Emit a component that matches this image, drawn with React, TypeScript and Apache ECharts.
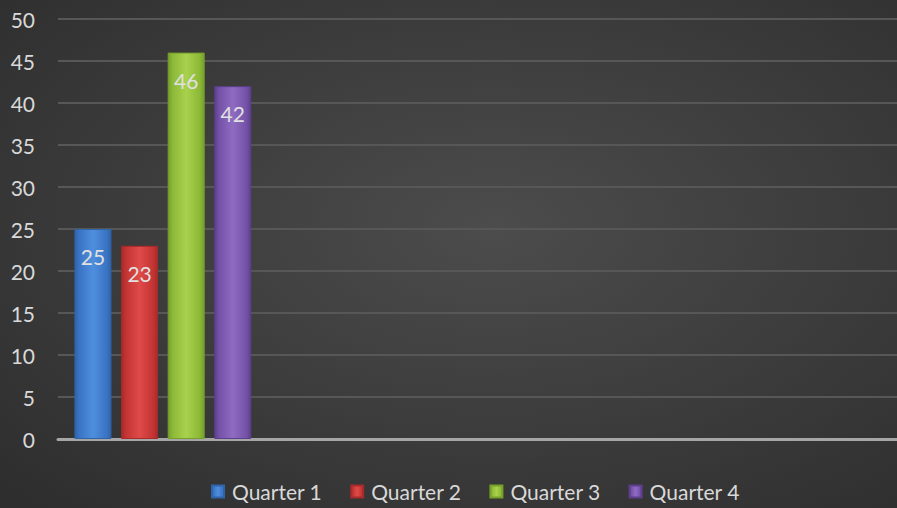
import React, { useEffect, useRef } from "react";
import * as echarts from "echarts";

const categories = ["", "", "", ""];
const seriesNames = ["Quarter 1", "Quarter 2", "Quarter 3", "Quarter 4"];
const quarter1 = [25, null, null, null];
const quarter2 = [23, null, null, null];
const quarter3 = [46, null, null, null];
const quarter4 = [42, null, null, null];
const seriesValues = [quarter1, quarter2, quarter3, quarter4];
const baseColors = [
  ["#2f64a8", "#4f8ede", "#3a74c4"],
  ["#a82a2a", "#e04a48", "#c23434"],
  ["#76a02a", "#a8d24c", "#8cb838"],
  ["#5e3f8e", "#8f6cc2", "#7452a8"],
];

const FONT = "Lato";

function barGradient(c: string[]) {
  return new echarts.graphic.LinearGradient(0, 0, 1, 0, [
    { offset: 0, color: c[0] },
    { offset: 0.12, color: c[2] },
    { offset: 0.5, color: c[1] },
    { offset: 0.88, color: c[2] },
    { offset: 1, color: c[0] },
  ]);
}

export default function App() {
  const ref = useRef<HTMLDivElement>(null);
  useEffect(() => {
    if (!ref.current) return;
    const chart = echarts.init(ref.current, null, { renderer: "svg" });
    chart.setOption({
      animation: false,
      backgroundColor: new echarts.graphic.RadialGradient(0.55, 0.45, 0.75, [
        { offset: 0, color: "#4c4c4c" },
        { offset: 1, color: "#2e2e2e" },
      ]),
      grid: { left: 58, right: 0, top: 19, bottom: 69, containLabel: false },
      legend: {
        bottom: 1,
        left: 206,
        icon: "rect",
        itemWidth: 12,
        itemHeight: 12,
        itemGap: 28,
        textStyle: { color: "#d9d9d9", fontSize: 21, fontFamily: FONT, padding: [0, 0, 0, 3] },
        data: seriesNames,
      },
      xAxis: {
        type: "category",
        data: categories,
        axisLine: { show: true, lineStyle: { color: "#a6a6a6", width: 3 } },
        axisTick: { show: false },
        axisLabel: { show: false },
      },
      yAxis: {
        type: "value",
        min: 0,
        max: 50,
        interval: 5,
        axisLine: { show: false },
        axisTick: { show: false },
        splitLine: { lineStyle: { color: "#575757", width: 2 } },
        axisLabel: {
          color: "#d9d9d9",
          fontSize: 21,
          fontFamily: FONT,
          margin: 23,
        },
      },
      series: seriesNames.map((name, i) => ({
        name,
        type: "bar",
        data: seriesValues[i],
        barWidth: 37,
        barGap: "26%",
        itemStyle: {
          color: barGradient(baseColors[i]),
          borderColor: baseColors[i][0],
          borderWidth: 1,
        },
        label: {
          show: true,
          position: "insideTop",
          distance: 17,
          color: "#e0e0e0",
          fontSize: 21,
          fontFamily: FONT,
        },
      })),
    });
    return () => chart.dispose();
  }, []);
  return <div ref={ref} style={{ width: 897, height: 508, position: "absolute", left: 0, top: 0 }} />;
}
